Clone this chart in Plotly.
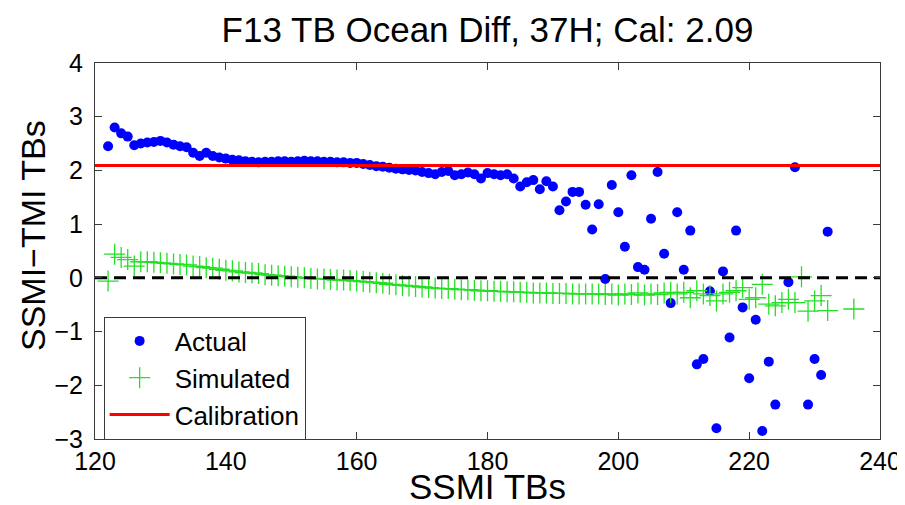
import plotly.graph_objects as go

# ---- data ----
actual_x = list(range(122, 233))
actual_y = [2.45, 2.80, 2.69, 2.63, 2.47, 2.50, 2.52, 2.53, 2.55, 2.52,   # 122-131
            2.48, 2.45, 2.43, 2.33, 2.27, 2.33, 2.27, 2.24, 2.22, 2.20,   # 132-141
            2.19, 2.17, 2.16, 2.15, 2.16, 2.16, 2.17, 2.17, 2.16, 2.17,   # 142-151
            2.18, 2.17, 2.17, 2.16, 2.16, 2.15, 2.15, 2.14, 2.14, 2.12,   # 152-161
            2.10, 2.08, 2.07, 2.05, 2.03, 2.02, 2.01, 2.00, 1.97, 1.95,   # 162-171
            1.93, 1.97, 1.99, 1.91, 1.93, 1.96, 1.93, 1.85, 1.95, 1.93,   # 172-181
            1.91, 1.93, 1.85, 1.70, 1.78, 1.82, 1.65, 1.80, 1.70, 1.26,   # 182-191
            1.42, 1.60, 1.60, 1.36, 0.90, 1.37, -0.02, 1.73, 1.22, 0.58,  # 192-201
            1.91, 0.20, 0.15, 1.10, 1.97, 0.45, -0.47, 1.22, 0.15, 0.88,  # 202-211
            -1.61, -1.51, -0.25, -2.80, 0.12, -1.11, 0.88, -0.55, -1.87, -0.78,  # 212-221
            -2.85, -1.56, -2.36, None, -0.08, 2.06, None, -2.36, -1.51, -1.81,   # 222-231
            0.86]                                                          # 232

sim_x = list(range(122, 237))
sim_y = [-0.06, 0.44, 0.38, 0.34, 0.22, 0.30, 0.30, 0.29, 0.28, 0.27,    # 122-131
         0.26, 0.25, 0.24, 0.22, 0.21, 0.19, 0.18, 0.16, 0.14, 0.13,      # 132-141
         0.11, 0.10, 0.09, 0.08, 0.06, 0.05, 0.04, 0.03, 0.02, 0.01,      # 142-151
         0.00, -0.01, -0.02, -0.02, -0.03, -0.04, -0.04, -0.05, -0.06, -0.07,  # 152-161
         -0.08, -0.09, -0.10, -0.12, -0.13, -0.14, -0.15, -0.16, -0.17, -0.18,  # 162-171
         -0.19, -0.20, -0.20, -0.21, -0.22, -0.22, -0.23, -0.24, -0.24, -0.25,  # 172-181
         -0.25, -0.26, -0.26, -0.27, -0.27, -0.28, -0.28, -0.28, -0.29, -0.29,  # 182-191
         -0.29, -0.30, -0.30, -0.30, -0.30, -0.30, -0.31, -0.30, -0.32, -0.30,  # 192-201
         -0.31, -0.28, -0.32, -0.30, -0.31, -0.28, -0.27, -0.30, -0.27, -0.37,  # 202-211
         -0.24, -0.30, -0.33, -0.43, -0.30, -0.27, -0.24, -0.18, -0.40, -0.37,  # 212-221
         -0.12, -0.49, -0.52, -0.46, -0.40, -0.46, 0.02, -0.62, -0.43, -0.33,   # 222-231
         -0.61, None, None, None, -0.58]                                        # 232-236

calibration = 2.09
cal_x = [120, 240]
zero_x = [120, 240]
zero_y = [0, 0]

x_range = [120, 240]
y_range = [-3, 4]
x_ticks = [120, 140, 160, 180, 200, 220, 240]
y_ticks = [-3, -2, -1, 0, 1, 2, 3, 4]

title_text = "F13 TB Ocean Diff, 37H; Cal: 2.09"
x_label = "SSMI TBs"
y_label = "SSMI\u2212TMI TBs"

FONT = "Liberation Sans, Arial, Helvetica, sans-serif"
AX = "#3a3a3a"

fig = go.Figure()
fig.add_trace(go.Scatter(x=actual_x, y=actual_y, mode="markers", name="Actual",
                         marker=dict(symbol="circle", size=10, color="#0000ff")))
fig.add_trace(go.Scatter(x=sim_x, y=sim_y, mode="markers", name="Simulated",
                         marker=dict(symbol="cross-thin", size=15,
                                     line=dict(color="#22e022", width=1.3))))
fig.add_trace(go.Scatter(x=cal_x, y=[calibration, calibration], mode="lines",
                         name="Calibration", line=dict(color="#ff0000", width=3)))
fig.add_trace(go.Scatter(x=zero_x, y=zero_y, mode="lines", showlegend=False,
                         line=dict(color="#000000", width=3, dash="12px,7px")))

axis_common = dict(showgrid=False, zeroline=False, showline=True, linecolor=AX,
                   linewidth=1, mirror="ticks", ticks="inside", ticklen=7,
                   tickcolor=AX, tickwidth=1,
                   tickfont=dict(family=FONT, size=25, color="#000"))

fig.update_xaxes(range=x_range, tickvals=x_ticks, **axis_common)
fig.update_yaxes(range=y_range, tickvals=y_ticks, ticklabelstandoff=6, **axis_common)

# page body has an 8px margin, so the figure is offset by 8px in x and y
fig.update_layout(
    width=905, height=505,
    margin=dict(l=87, r=33, t=55, b=74, autoexpand=False),
    paper_bgcolor="white", plot_bgcolor="white",
    font=dict(family=FONT, color="#000"),
    title=dict(text=title_text, x=0.5, xref="paper", y=1 - 22 / 505, yref="container",
               yanchor="middle", xanchor="center",
               font=dict(family=FONT, size=35, color="#000")),
    legend=dict(x=0.011, y=(439 - 378) / 376, xanchor="left", yanchor="middle",
                bgcolor="white", bordercolor=AX, borderwidth=1,
                font=dict(family=FONT, size=26, color="#000"),
                itemwidth=60, tracegroupgap=0),
    showlegend=True,
    annotations=[
        dict(text=x_label, xref="paper", yref="paper", x=0.5, y=(439 - 486) / 376,
             xanchor="center", yanchor="middle", showarrow=False,
             font=dict(family=FONT, size=35, color="#000")),
        dict(text=y_label, xref="paper", yref="paper", x=(33 - 95) / 785,
             y=(439 - 236) / 376, xanchor="center", yanchor="middle",
             textangle=-90, showarrow=False,
             font=dict(family=FONT, size=34, color="#000")),
    ],
)

fig.write_html("out.html")
